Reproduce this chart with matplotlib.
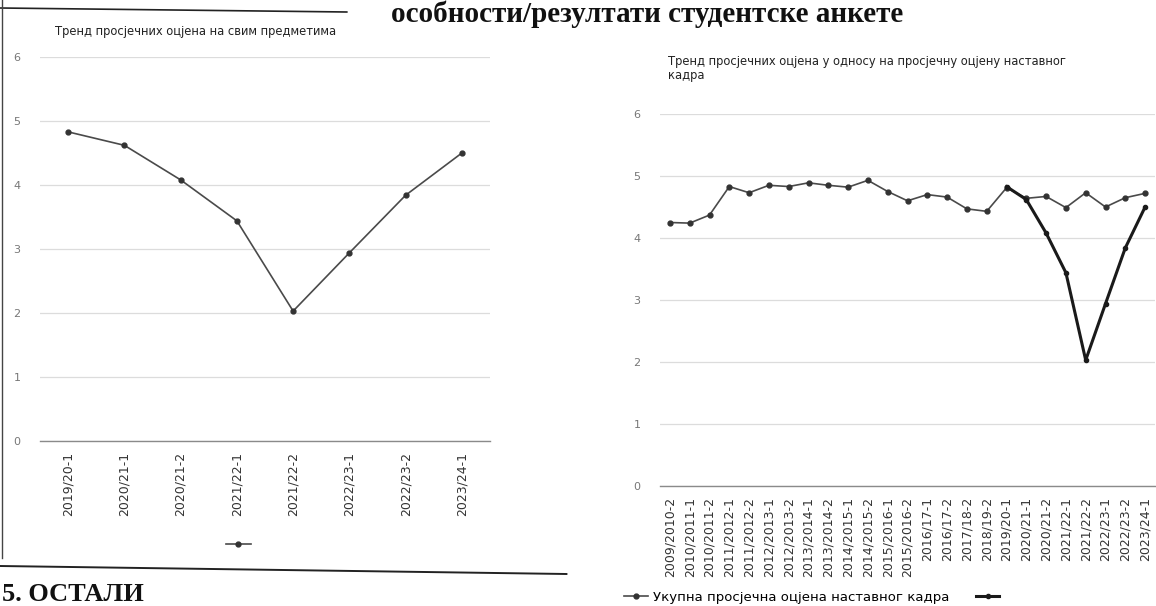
import numpy as np
import matplotlib
matplotlib.use("Agg")
import matplotlib.pyplot as plt
from matplotlib.lines import Line2D

plt.rcParams['font.family'] = ['DejaVu Sans']

# ---------------- data ----------------
left_title = "Тренд просјечних оцјена на свим предметима"
left_cats = ["2019/20-1", "2020/21-1", "2020/21-2", "2021/22-1",
             "2021/22-2", "2022/23-1", "2022/23-2", "2023/24-1"]
left_vals = [4.83, 4.62, 4.08, 3.44, 2.03, 2.94, 3.84, 4.50]

right_title = "Тренд просјечних оцјена у односу на просјечну оцјену наставног\nкадра"
right_cats = ["2009/2010-2", "2010/2011-1", "2010/2011-2", "2011/2012-1",
              "2011/2012-2", "2012/2013-1", "2012/2013-2", "2013/2014-1",
              "2013/2014-2", "2014/2015-1", "2014/2015-2", "2015/2016-1",
              "2015/2016-2", "2016/17-1", "2016/17-2", "2017/18-2",
              "2018/19-2", "2019/20-1", "2020/21-1", "2020/21-2",
              "2021/22-1", "2021/22-2", "2022/23-1", "2022/23-2", "2023/24-1"]
staff_vals = [4.25, 4.24, 4.37, 4.83, 4.73, 4.85, 4.83, 4.89, 4.85, 4.82,
              4.93, 4.75, 4.60, 4.70, 4.66, 4.47, 4.43, 4.81, 4.64, 4.67,
              4.49, 4.73, 4.50, 4.65, 4.72]
subject_vals = [None] * 17 + left_vals
staff_label = "Укупна просјечна оцјена наставног кадра"
y_ticks = [0, 1, 2, 3, 4, 5, 6]

header_text = "особности/резултати студентске анкете"
footer_text = "5. ОСТАЛИ"

# ---------------- figure ----------------
W, H = 1156, 606
fig = plt.figure(figsize=(W / 100, H / 100), dpi=100)
fig.patch.set_facecolor("white")

def px_axes(x0, x1, ytop, ybot):
    return fig.add_axes([x0 / W, 1 - ybot / H, (x1 - x0) / W, (ybot - ytop) / H])

line_col = "#4a4a4a"
grid_col = "#dcdcdc"
tick_col = "#555555"

def style(ax, ncat):
    ax.set_ylim(0, 6)
    ax.set_yticks(y_ticks)
    ax.set_xlim(-0.5, ncat - 0.5)
    ax.grid(axis="y", color=grid_col, linewidth=0.9)
    ax.set_axisbelow(True)
    for s in ["top", "right", "left"]:
        ax.spines[s].set_visible(False)
    ax.spines["bottom"].set_color("#8a8a8a")
    ax.spines["bottom"].set_linewidth(1.0)
    ax.tick_params(axis="both", length=0, colors=tick_col)
    ax.tick_params(axis="y", labelsize=8, pad=14, labelcolor="#777777")
    ax.tick_params(axis="x", labelsize=9, pad=8, labelcolor="#333333")

# ---- left chart ----
axL = px_axes(40, 490, 57, 441)
style(axL, len(left_cats))
xL = np.arange(len(left_cats))
lL, = axL.plot(xL, left_vals, color=line_col, linewidth=1.2,
               marker="o", markersize=3.5, markerfacecolor="#333333",
               markeredgecolor="#333333")
axL.set_xticks(xL)
axL.set_xticklabels(left_cats, rotation=90, va="top", ha="center")
fig.text(55 / W, 1 - 31 / H, left_title, fontsize=8.3, color="#222222",
         ha="left", va="center")
fig.legend(handles=[lL], labels=[""], loc="center",
           bbox_to_anchor=(243 / W, 1 - 545 / H), frameon=False,
           handlelength=2.0, fontsize=9)

# ---- right chart ----
axR = px_axes(660, 1155, 114, 486)
style(axR, len(right_cats))
xR = np.arange(len(right_cats))
lS, = axR.plot(xR, staff_vals, color=line_col, linewidth=1.2,
               marker="o", markersize=3.5, markerfacecolor="#333333",
               markeredgecolor="#333333")
sub = np.array([np.nan if v is None else v for v in subject_vals], dtype=float)
lV, = axR.plot(xR, sub, color="#1a1a1a", linewidth=2.2,
               marker="o", markersize=3.0, markerfacecolor="#1a1a1a",
               markeredgecolor="#1a1a1a")
axR.set_xticks(xR)
axR.set_xticklabels(right_cats, rotation=90, va="top", ha="center")
fig.text(668 / W, 1 - 68 / H, right_title, fontsize=8.3, color="#222222",
         ha="left", va="center", linespacing=1.1)
fig.legend(handles=[lS, lV], labels=[staff_label, ""], loc="center left",
           bbox_to_anchor=(612 / W, 1 - 597 / H), frameon=False, ncol=2,
           handlelength=1.8, handletextpad=0.4, columnspacing=2.0,
           fontsize=9.5)

# ---- scanned-document decoration ----
fig.text(647 / W, 0.999, header_text, fontsize=21, fontweight="bold",
         family="Liberation Serif", ha="center", va="top", color="#111111")
fig.add_artist(Line2D([0, 0.30], [1 - 8 / H, 1 - 12 / H], color="#222222",
                      linewidth=1.2, transform=fig.transFigure))
fig.add_artist(Line2D([0, 0.49], [1 - 566 / H, 1 - 574 / H], color="#222222",
                      linewidth=1.4, transform=fig.transFigure))
fig.add_artist(Line2D([0.002, 0.002], [0.08, 1.0], color="#444444",
                      linewidth=1.0, transform=fig.transFigure))
fig.text(0.002, 0.0, footer_text, fontsize=19, fontweight="bold",
         family="Liberation Serif", ha="left", va="bottom", color="#111111")

fig.savefig("out.png", dpi=100, facecolor="white")
